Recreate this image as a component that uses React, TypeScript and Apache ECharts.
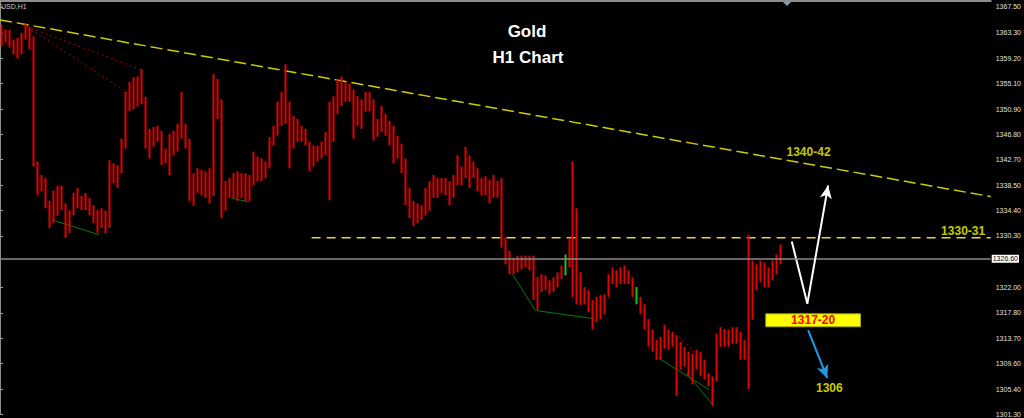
import React, { useEffect, useRef } from "react";
import * as echarts from "echarts";

const FONT = "'Liberation Sans', Arial, sans-serif";

// ---- hourly XAUUSD candles ----
const open = [
  1363.0, 1362.2, 1363.3, 1361.4, 1361.9, 1359.8, 1362.5, 1364.1, 1344.5, 1342.1,
  1338.9, 1339.7, 1335.6, 1332.9, 1337.3, 1336.5, 1335.6, 1331.3, 1334.0, 1336.5,
  1335.6, 1336.5, 1335.6, 1334.5, 1333.6, 1331.9, 1334.0, 1332.4, 1340.5, 1340.0,
  1341.0, 1344.5, 1350.9, 1353.3, 1352.5, 1354.5, 1352.9, 1346.1, 1346.9, 1346.1,
  1347.4, 1342.9, 1343.7, 1346.1, 1344.8, 1347.4, 1348.0, 1345.3, 1338.1, 1338.9,
  1340.0, 1338.4, 1339.4, 1337.3, 1352.5, 1337.3, 1336.5, 1338.1, 1337.3, 1338.9,
  1337.3, 1339.7, 1337.7, 1338.9, 1342.1, 1341.3, 1340.5, 1341.6, 1345.3, 1346.9,
  1350.1, 1351.7, 1350.6, 1347.7, 1348.5, 1346.9, 1347.7, 1345.3, 1342.9, 1344.5,
  1343.7, 1344.8, 1346.1, 1347.4, 1350.9, 1354.1, 1355.0, 1353.3, 1354.1, 1349.3,
  1351.7, 1350.9, 1352.5, 1351.7, 1347.7, 1348.5, 1350.1, 1348.0, 1346.9, 1344.5,
  1345.3, 1342.9, 1337.3, 1335.6, 1334.0, 1334.8, 1334.0, 1337.3, 1336.5, 1338.9,
  1338.1, 1338.9, 1337.3, 1336.5, 1339.2, 1341.3, 1339.7, 1342.9, 1340.0, 1341.3,
  1338.9, 1338.4, 1339.4, 1336.5, 1338.9, 1330.8, 1329.5, 1327.6, 1325.5, 1326.0,
  1325.2, 1326.5, 1326.0, 1326.8, 1322.0, 1322.8, 1322.0, 1323.1, 1321.7, 1322.8,
  1323.9, 1324.4, 1326.0, 1329.2, 1328.4, 1322.0, 1320.7, 1321.2, 1318.8, 1316.3,
  1319.1, 1317.9, 1320.4, 1322.8, 1324.4, 1323.1, 1324.4, 1323.6, 1323.1, 1321.2,
  1320.4, 1318.8, 1316.3, 1313.9, 1312.3, 1313.1, 1312.3, 1314.7, 1313.1, 1313.9,
  1313.1, 1310.7, 1311.5, 1309.1, 1310.7, 1309.9, 1309.1, 1307.8, 1306.7, 1307.5,
  1313.9, 1314.7, 1313.1, 1314.2, 1313.9, 1314.7, 1312.3, 1311.5, 1317.1, 1324.4,
  1323.6, 1325.2, 1323.6, 1324.4, 1325.2, 1326.0,
];
const close = [
  1362.2, 1363.3, 1361.4, 1361.9, 1359.8, 1362.5, 1364.1, 1361.4, 1342.6, 1338.9,
  1339.7, 1335.6, 1332.9, 1337.3, 1336.5, 1335.6, 1331.3, 1334.0, 1336.5, 1335.6,
  1336.5, 1335.6, 1334.5, 1333.6, 1331.9, 1334.0, 1332.4, 1333.2, 1340.0, 1341.0,
  1344.5, 1350.9, 1353.3, 1352.5, 1354.5, 1352.9, 1346.1, 1346.9, 1346.1, 1347.4,
  1342.9, 1343.7, 1346.1, 1344.8, 1347.4, 1348.0, 1345.3, 1338.1, 1338.9, 1340.0,
  1338.4, 1339.4, 1337.3, 1338.4, 1350.9, 1336.5, 1338.1, 1337.3, 1338.9, 1337.3,
  1339.7, 1337.7, 1338.9, 1342.1, 1341.3, 1340.5, 1341.6, 1345.3, 1346.9, 1350.1,
  1351.7, 1350.6, 1347.7, 1348.5, 1346.9, 1347.7, 1345.3, 1342.9, 1344.5, 1343.7,
  1344.8, 1346.1, 1347.4, 1350.9, 1354.1, 1355.0, 1353.3, 1354.1, 1349.3, 1351.7,
  1350.9, 1352.5, 1351.7, 1347.7, 1348.5, 1350.1, 1348.0, 1346.9, 1344.5, 1345.3,
  1342.9, 1337.3, 1335.6, 1334.0, 1334.8, 1334.0, 1337.3, 1336.5, 1338.9, 1338.1,
  1338.9, 1337.3, 1336.5, 1339.2, 1341.3, 1339.7, 1342.9, 1340.0, 1341.3, 1338.9,
  1338.4, 1339.4, 1336.5, 1338.9, 1337.3, 1329.5, 1327.6, 1325.5, 1326.0, 1325.2,
  1326.5, 1326.0, 1326.8, 1322.0, 1322.8, 1322.0, 1323.1, 1321.7, 1322.8, 1323.9,
  1324.4, 1326.0, 1329.2, 1328.4, 1322.0, 1320.7, 1321.2, 1318.8, 1316.3, 1319.1,
  1317.9, 1320.4, 1322.8, 1324.4, 1323.1, 1324.4, 1323.6, 1323.1, 1321.2, 1320.4,
  1318.8, 1316.3, 1313.9, 1312.3, 1313.1, 1312.3, 1314.7, 1313.1, 1313.9, 1313.1,
  1310.7, 1311.5, 1309.1, 1310.7, 1309.9, 1309.1, 1307.8, 1306.7, 1307.5, 1313.9,
  1314.7, 1313.1, 1314.2, 1313.9, 1314.7, 1312.3, 1311.5, 1312.3, 1324.4, 1323.6,
  1325.2, 1323.6, 1324.4, 1325.2, 1326.0, 1326.6,
];
const high = [
  1364.6, 1363.8, 1363.8, 1362.2, 1362.5, 1363.3, 1364.8, 1364.3, 1362.7, 1342.4,
  1340.2, 1339.7, 1336.0, 1337.7, 1338.4, 1338.5, 1335.6, 1334.5, 1337.3, 1338.1,
  1336.8, 1337.3, 1336.5, 1335.3, 1334.5, 1334.8, 1334.4, 1342.6, 1342.1, 1341.8,
  1346.1, 1353.7, 1355.3, 1356.1, 1356.2, 1357.4, 1352.9, 1347.7, 1348.0, 1348.2,
  1347.4, 1344.5, 1346.9, 1347.4, 1348.5, 1353.7, 1348.5, 1346.1, 1340.5, 1341.3,
  1341.0, 1340.8, 1341.3, 1356.6, 1355.8, 1352.5, 1339.2, 1339.7, 1340.5, 1340.8,
  1340.5, 1340.5, 1340.2, 1344.0, 1343.2, 1342.9, 1342.4, 1346.4, 1348.2, 1352.1,
  1353.7, 1358.2, 1352.1, 1349.8, 1349.3, 1348.2, 1347.7, 1345.6, 1345.0, 1345.0,
  1345.6, 1347.2, 1352.1, 1353.0, 1355.8, 1356.2, 1355.3, 1355.0, 1354.1, 1353.0,
  1352.5, 1353.7, 1353.7, 1352.5, 1349.3, 1351.4, 1350.1, 1349.0, 1348.2, 1346.6,
  1345.3, 1342.9, 1338.1, 1336.0, 1335.6, 1335.3, 1338.1, 1339.2, 1340.2, 1339.7,
  1339.7, 1339.7, 1339.2, 1340.2, 1343.4, 1341.6, 1344.8, 1343.4, 1342.4, 1341.3,
  1339.7, 1340.0, 1339.4, 1340.2, 1339.2, 1339.7, 1330.0, 1327.9, 1326.8, 1327.1,
  1327.1, 1327.1, 1327.1, 1327.1, 1323.6, 1324.1, 1323.9, 1323.1, 1323.6, 1324.4,
  1325.5, 1327.3, 1330.0, 1342.4, 1334.8, 1324.4, 1322.0, 1321.5, 1319.9, 1320.4,
  1320.7, 1320.8, 1324.1, 1325.2, 1324.7, 1325.2, 1325.5, 1324.7, 1323.6, 1322.0,
  1320.4, 1319.2, 1316.8, 1315.1, 1313.4, 1313.9, 1315.9, 1315.1, 1314.7, 1314.2,
  1313.1, 1312.3, 1311.5, 1311.2, 1311.8, 1311.5, 1310.2, 1308.0, 1307.5, 1314.4,
  1315.5, 1315.2, 1315.1, 1315.5, 1315.5, 1314.7, 1313.4, 1330.5, 1326.3, 1325.7,
  1326.3, 1326.0, 1325.2, 1326.3, 1327.3, 1328.9,
];
const low = [
  1361.1, 1361.7, 1360.9, 1359.8, 1359.1, 1359.8, 1362.2, 1360.6, 1341.6, 1336.9,
  1337.6, 1334.8, 1331.6, 1332.4, 1333.6, 1334.5, 1330.0, 1330.8, 1333.7, 1334.8,
  1334.5, 1334.5, 1333.7, 1332.4, 1330.8, 1331.6, 1330.7, 1331.6, 1338.9, 1338.1,
  1340.5, 1344.5, 1350.6, 1350.9, 1351.3, 1351.7, 1344.5, 1342.9, 1344.8, 1345.6,
  1341.8, 1342.1, 1340.2, 1343.4, 1344.0, 1346.1, 1344.5, 1336.0, 1335.2, 1337.3,
  1336.9, 1336.5, 1335.6, 1336.8, 1349.3, 1333.2, 1334.4, 1336.5, 1336.5, 1336.0,
  1336.5, 1336.0, 1336.0, 1338.5, 1339.2, 1339.2, 1339.7, 1341.3, 1345.0, 1346.6,
  1348.2, 1348.5, 1341.3, 1344.5, 1345.6, 1345.6, 1345.0, 1340.8, 1341.6, 1342.4,
  1342.9, 1343.4, 1336.1, 1345.6, 1350.1, 1351.4, 1352.1, 1352.1, 1346.1, 1348.2,
  1347.7, 1350.5, 1350.6, 1345.8, 1346.4, 1347.2, 1346.6, 1345.0, 1342.1, 1342.9,
  1340.5, 1335.3, 1333.2, 1331.9, 1332.4, 1332.9, 1333.6, 1334.4, 1336.5, 1336.5,
  1337.3, 1336.9, 1335.3, 1336.5, 1338.5, 1338.5, 1339.7, 1338.1, 1339.7, 1337.6,
  1336.9, 1336.9, 1335.6, 1336.5, 1336.5, 1328.4, 1325.7, 1324.1, 1324.1, 1324.4,
  1324.9, 1325.2, 1324.7, 1319.9, 1318.3, 1321.2, 1321.5, 1320.8, 1321.2, 1322.0,
  1323.3, 1323.9, 1325.2, 1320.4, 1319.2, 1319.1, 1319.2, 1317.9, 1315.1, 1316.3,
  1316.8, 1317.6, 1320.4, 1322.5, 1322.0, 1322.5, 1322.5, 1322.5, 1320.4, 1319.2,
  1317.6, 1315.1, 1312.3, 1311.5, 1310.2, 1310.2, 1312.0, 1311.8, 1312.3, 1304.3,
  1308.6, 1309.1, 1307.5, 1306.2, 1308.6, 1307.5, 1307.0, 1305.9, 1302.7, 1306.7,
  1312.3, 1312.3, 1312.3, 1312.8, 1312.8, 1310.2, 1310.2, 1305.4, 1316.7, 1321.5,
  1322.8, 1322.0, 1322.0, 1323.1, 1324.1, 1325.7,
];
const greenBars = [141, 159];

const slotCount = 248; // chart slots incl. empty right shift
const priceTicks = [
  1367.5, 1363.3, 1359.2, 1355.1, 1350.9, 1346.8, 1342.7, 1338.5,
  1334.4, 1330.3, 1322.0, 1317.8, 1313.7, 1309.6, 1305.4, 1301.3,
];
const lastPrice = 1326.6;
const yMin = 1301.3;
const yMax = 1368.47;

// ---- drawn annotations, in (bar slot, price) units ----
const resistanceTrend = [[0, 1365.4], [248, 1336.7]];
const levelLine = [[78, 1330.0], [248, 1330.0]];
const redDotted = [
  [[6.7, 1364.3], [35.8, 1357.2]],
  [[6.7, 1364.3], [32.1, 1353.5]],
  [[170, 1313.9], [174.5, 1311.0]],
];
const greenLines = [
  [[12.9, 1332.95], [24.8, 1330.5]],
  [[57.9, 1336.45], [62.5, 1335.8]],
  [[128.3, 1324.1], [134, 1318.2], [148.3, 1316.9]],
  [[165, 1310.4], [177.5, 1305.35]],
  [[171.7, 1308.1], [178.75, 1302.65]],
];
const whitePath = [[198.2, 1329.4], [202.1, 1319.3], [207.3, 1338.5]];
const bluePath = [[202.3, 1315.0], [207.1, 1307.2]];
const targetZone = [[191.7, 1317.65], [215.4, 1315.55]];
const targetLabel = "1317-20";
const levelLabels = [
  { name: "1340-42", value: [202.4, 1344.0] },
  { name: "1330-31", value: [241.1, 1331.1] },
  { name: "1306", value: [207.6, 1305.6] },
];

const RED = "#e40000";
const GREEN = "#10c810";

export default function App() {
  const ref = useRef<HTMLDivElement>(null);

  useEffect(() => {
    if (!ref.current) return;
    const chart = echarts.init(ref.current, undefined, { renderer: "svg" });

    const slots = Array.from({ length: slotCount }, (_, i) => String(i));
    const candleData = open.map((o, i) => {
      const v = [o, close[i], low[i], high[i]];
      return greenBars.includes(i)
        ? { value: v, itemStyle: { color: GREEN, color0: GREEN, borderColor: GREEN, borderColor0: GREEN } }
        : v;
    });

    const lineSeries = (data: number[][], color: string, width: number, type: any) => ({
      type: "line",
      xAxisIndex: 1,
      yAxisIndex: 0,
      data,
      symbol: "none",
      silent: true,
      lineStyle: { color, width, type },
      z: 3,
    });

    const option: any = {
      animation: false,
      backgroundColor: "#000000",
      title: [
        {
          text: "Gold",
          left: 522,
          top: 18,
          textAlign: "center",
          textStyle: { color: "#ffffff", fontSize: 17, fontWeight: "bold", fontFamily: FONT },
        },
        {
          text: "H1 Chart",
          left: 523,
          top: 44,
          textAlign: "center",
          textStyle: { color: "#ffffff", fontSize: 17, fontWeight: "bold", fontFamily: FONT },
        },
      ],
      grid: { left: 0, right: 32, top: 1, bottom: 0, containLabel: false },
      xAxis: [
        {
          type: "category",
          data: slots,
          position: "top",
          boundaryGap: true,
          axisLine: { show: true, lineStyle: { color: "#8c8c8c", width: 2 } },
          axisTick: { show: false },
          axisLabel: { show: false },
          splitLine: { show: false },
        },
        { type: "value", min: 0, max: slotCount, show: false },
      ],
      yAxis: {
        type: "value",
        position: "right",
        min: yMin,
        max: yMax,
        splitLine: { show: false },
        axisLine: { show: true, lineStyle: { color: "#8c8c8c", width: 1 } },
        axisTick: { show: true, length: 3, lineStyle: { color: "#a0a0a0" }, customValues: priceTicks },
        axisLabel: {
          show: true,
          customValues: priceTicks,
          formatter: (v: number) => v.toFixed(2),
          color: "#e0e0e0",
          fontSize: 7,
          fontFamily: FONT,
          margin: 5,
        },
      },
      graphic: [
        {
          type: "text",
          x: 1,
          y: 3,
          style: { text: "USD,H1", fill: "#c8c8c8", font: `7px ${FONT}` },
        },
        {
          type: "polygon",
          shape: { points: [[783, 2], [791, 2], [787, 6]] },
          style: { fill: "#8a9aaa" },
        },
      ],
      series: [
        {
          type: "candlestick",
          name: "XAUUSD",
          xAxisIndex: 0,
          yAxisIndex: 0,
          data: candleData,
          barWidth: 1,
          z: 4,
          itemStyle: {
            color: "#c40000",
            color0: RED,
            borderColor: RED,
            borderColor0: RED,
            borderWidth: 2,
          },
          markLine: {
            silent: true,
            symbol: "none",
            data: [{ yAxis: lastPrice }],
            lineStyle: { color: "#8a8a8a", width: 1.5, type: "solid" },
            label: {
              show: true,
              position: "end",
              distance: 1,
              formatter: lastPrice.toFixed(2),
              color: "#000000",
              backgroundColor: "#ffffff",
              padding: [1, 1, 0, 1],
              fontSize: 7,
              fontFamily: FONT,
            },
          },
        },
        lineSeries(resistanceTrend, "#cccc00", 1.5, [12, 5]),
        lineSeries(levelLine, "#dcd450", 1.5, [9, 6]),
        ...redDotted.map((d) => lineSeries(d, "#b40000", 1, [2, 3])),
        ...greenLines.map((d) => lineSeries(d, "#0a7a0a", 1, "solid")),
        {
          ...lineSeries(whitePath.slice(0, 2), "#ffffff", 2, "solid"),
          markLine: {
            silent: true,
            symbol: ["none", "arrow"],
            symbolSize: [9, 13],
            label: { show: false },
            lineStyle: { color: "#ffffff", width: 2, type: "solid" },
            data: [[{ coord: whitePath[1] }, { coord: whitePath[2] }]],
          },
          markArea: {
            silent: true,
            itemStyle: { color: "#ffff00", opacity: 1, borderColor: "#a8a800", borderWidth: 1 },
            label: {
              show: true,
              position: "inside",
              color: "#ff0000",
              fontWeight: "bold",
              fontSize: 12,
              fontFamily: FONT,
            },
            data: [[{ coord: targetZone[0], name: targetLabel }, { coord: targetZone[1] }]],
          },
        },
        {
          ...lineSeries([], "#1e9be6", 2, "solid"),
          markLine: {
            silent: true,
            symbol: ["none", "arrow"],
            symbolSize: [9, 13],
            label: { show: false },
            lineStyle: { color: "#1e9be6", width: 2, type: "solid" },
            data: [[{ coord: bluePath[0] }, { coord: bluePath[1] }]],
          },
        },
        {
          type: "scatter",
          xAxisIndex: 1,
          yAxisIndex: 0,
          data: levelLabels,
          symbolSize: 1,
          silent: true,
          z: 6,
          itemStyle: { color: "transparent" },
          label: {
            show: true,
            position: "inside",
            formatter: "{b}",
            color: "#ffff00",
            fontWeight: "bold",
            fontSize: 12,
            fontFamily: FONT,
          },
        },
      ],
    };

    chart.setOption(option);
    return () => chart.dispose();
  }, []);

  return (
    <div
      ref={ref}
      style={{ position: "fixed", left: 0, top: 0, width: 1024, height: 418, background: "#000" }}
    />
  );
}
